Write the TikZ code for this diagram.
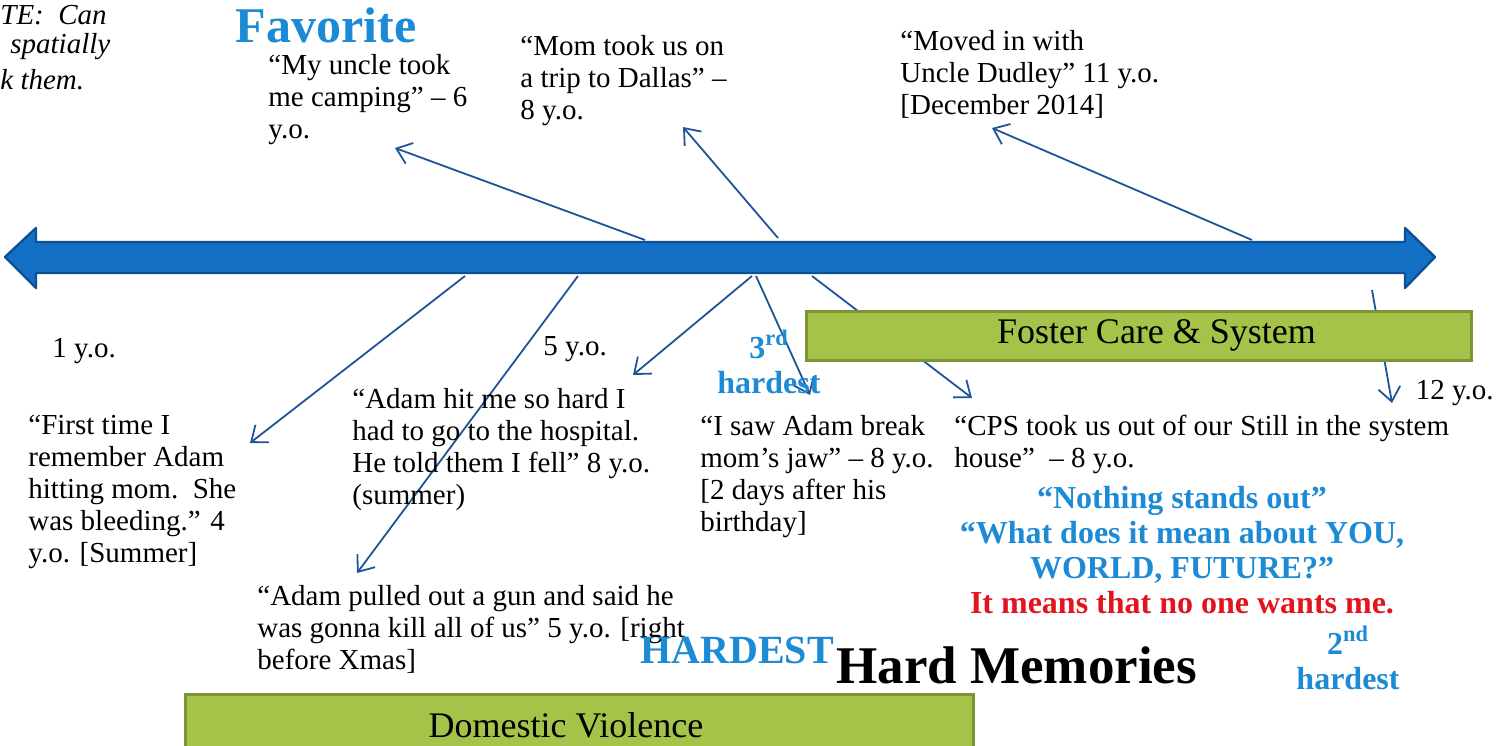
\documentclass[tikz,border=0pt]{standalone}
\usepackage{fontspec}
\setmainfont{Liberation Serif}
\usetikzlibrary{arrows.meta}

\definecolor{linkblue}{RGB}{31,84,153}
\definecolor{barfill}{RGB}{20,112,196}
\definecolor{bardraw}{RGB}{12,80,150}
\definecolor{boxfill}{RGB}{165,194,73}
\definecolor{boxdraw}{RGB}{122,148,54}
\definecolor{artblue}{RGB}{28,138,212}
\definecolor{artred}{RGB}{226,20,30}

\begin{document}
\begin{tikzpicture}[x=0.5pt,y=-0.5pt,>={Straight Barb[length=7pt,width=11pt]},
  link/.style={->,draw=linkblue,line width=0.9pt},
  memory/.style={anchor=north west,align=left,inner sep=0pt,font=\fontsize{14.5}{16}\selectfont},
  note/.style={anchor=west,inner sep=0pt,font=\fontsize{14.5}{16}\selectfont\itshape},
  topic/.style={draw=boxdraw,fill=boxfill,line width=1.5pt,inner sep=0pt,font=\fontsize{18}{20}\selectfont},
  wordart/.style={text=artblue,inner sep=0pt,font=\bfseries\fontsize{16}{17.5}\selectfont}]
\useasboundingbox (0,0) rectangle (1498,745);

% connectors
\coordinate (campFrom) at (645,240);   \coordinate (campTo) at (395,148);
\coordinate (dallasFrom) at (778,238); \coordinate (dallasTo) at (683,127);
\coordinate (dudleyFrom) at (1252,240);\coordinate (dudleyTo) at (992,128);
\coordinate (firstFrom) at (465,276);  \coordinate (firstTo) at (250,443);
\coordinate (gunFrom) at (578,276);    \coordinate (gunTo) at (357,573);
\coordinate (hospFrom) at (752,276);   \coordinate (hospTo) at (633,375);
\coordinate (jawFrom) at (756,276);    \coordinate (jawTo) at (810,395);
\coordinate (cpsFrom) at (812,276);    \coordinate (cpsTo) at (972,398);
\coordinate (stillFrom) at (1372,290); \coordinate (stillTo) at (1392,403);

\draw[link] (campFrom) -- (campTo);
\draw[link] (dallasFrom) -- (dallasTo);
\draw[link] (dudleyFrom) -- (dudleyTo);
\draw[link] (firstFrom) -- (firstTo);
\draw[link] (gunFrom) -- (gunTo);
\draw[link] (hospFrom) -- (hospTo);
\draw[link] (jawFrom) -- (jawTo);
\draw[link] (cpsFrom) -- (cpsTo);
\draw[link] (stillFrom) -- (stillTo);

% time line
\draw[fill=barfill,draw=bardraw,line width=1.2pt,line join=round]
  (5,257) -- (36,228) -- (36,242) -- (1405,242) -- (1405,228) -- (1435,257)
  -- (1405,288) -- (1405,273) -- (36,273) -- (36,288) -- cycle;

% topic boxes
\node[topic,minimum width=332.5pt,minimum height=24.5pt] (foster) at (1138.5,335.5) {\raisebox{-1.5pt}{\hspace{18pt}Foster Care \& System}};
\node[topic,minimum width=394pt,minimum height=31pt] (domestic) at (579,725) {\hspace{-13pt}Domestic Violence};

% note, cut at the left edge
\node[note] (note1) at (0,15) {TE:\ \ Can};
\node[note] (note2) at (10,47) {spatially};
\node[note] (note3) at (0,80) {k them.};

% memories
\node[memory] (camp) at (268,54) {“My uncle took\\me camping” – 6\\y.o.};
\node[memory] (dallas) at (520,35) {“Mom took us on\\a trip to Dallas” –\\8 y.o.};
\node[memory] (dudley) at (900,30) {“Moved in with\\Uncle Dudley” 11 y.o.\\{}[December 2014]};
\node[memory] (age1) at (52,338) {1 y.o.};
\node[memory] (age5) at (543,336) {5 y.o.};
\node[memory,anchor=north east] (age12) at (1494,380) {12 y.o.};
\node[memory] (first) at (28,415) {“First time I\\remember Adam\\hitting mom.\ \ She\\was bleeding.” 4\\y.o. [Summer]};
\node[memory] (hospital) at (352,388) {“Adam hit me so hard I\\had to go to the hospital.\\He told them I fell” 8 y.o.\\(summer)};
\node[memory] (gun) at (257,585) {“Adam pulled out a gun and said he\\was gonna kill all of us” 5 y.o. [right\\before Xmas]};
\node[memory] (jaw) at (700,415) {“I saw Adam break\\mom’s jaw” – 8 y.o.\\{}[2 days after his\\birthday]};
\node[memory] (cps) at (954,415) {“CPS took us out of our\\house”\ \ – 8 y.o.};
\node[memory] (still) at (1240,415) {Still in the system};

% rankings
\node[wordart,font=\bfseries\fontsize{25}{27}\selectfont] (favorite) at (326,25) {Favorite};
\node[wordart,align=center] (third) at (769,362) {3\textsuperscript{rd}\\hardest};
\node[wordart,align=center] (second) at (1348,658) {2\textsuperscript{nd}\\hardest};
\node[wordart,anchor=west,font=\bfseries\fontsize{20}{22}\selectfont] (hardest) at (640,650) {HARDEST};
\node[anchor=west,inner sep=0pt,font=\bfseries\fontsize{26.5}{28}\selectfont] (title) at (836,665) {Hard Memories};
\node[wordart,align=center] (outlook) at (1182,550) {“Nothing stands out”\\“What does it mean about YOU,\\WORLD, FUTURE?”\\\textcolor{artred}{It means that no one wants me.}};
\end{tikzpicture}
\end{document}
